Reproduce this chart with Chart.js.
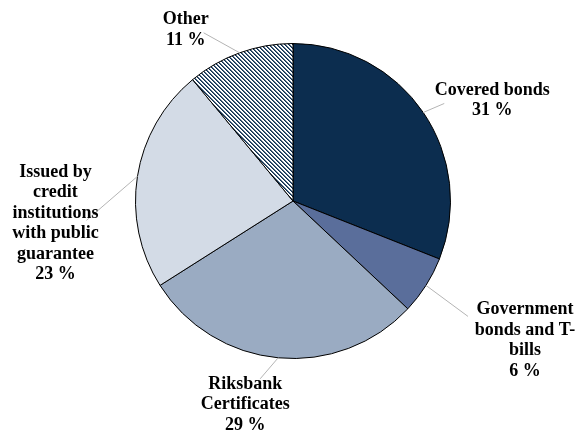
<!DOCTYPE html>
<html>
<head>
<meta charset="utf-8">
<script src="https://cdn.jsdelivr.net/npm/chart.js@4/dist/chart.umd.min.js"></script>
<style>
  body { margin: 0; background: #fff; }
  #wrap { width: 580px; height: 431px; position: relative; }
</style>
</head>
<body>
<div id="wrap"><canvas id="chart"></canvas></div>
<script>
const categories = [
  "Covered bonds",
  "Government bonds and T-bills",
  "Riksbank Certificates",
  "Issued by credit institutions with public guarantee",
  "Other",
];
const shares = [31, 6, 29, 23, 11];
// label text as wrapped in the original
const labelLines = [
  ["Covered bonds"],
  ["Government", "bonds and T-", "bills"],
  ["Riksbank", "Certificates"],
  ["Issued by", "credit", "institutions", "with public", "guarantee"],
  ["Other"],
];

const navy = "#0c2d4f";

function dottedPattern() {
  const c = document.createElement("canvas");
  c.width = 4;
  c.height = 4;
  const g = c.getContext("2d");
  g.fillStyle = "#fff";
  g.fillRect(0, 0, 4, 4);
  for (let y = 0; y < 4; y++) {
    g.fillStyle = navy;
    g.fillRect(y, y, 1, 1);
    g.globalAlpha = 0.7;
    g.fillRect((y + 1) % 4, y, 1, 1);
    g.globalAlpha = 1;
  }
  return g.createPattern(c, "repeat");
}

// offsets from the slice's outer edge at its mid angle: [leader end], [label centre]
const leaderOffsets = [[21, -9], [42, 31], [-18, 21], [-51, 44], [-36, -20]];
const labelOffsets = [[69, -12], [99, 55], [-33, 47], [-82, 47], [-54, -23]];

const pieLabels = {
  id: "pieLabels",
  afterDatasetsDraw(chart) {
    const ctx = chart.ctx;
    const arcs = chart.getDatasetMeta(0).data;
    ctx.save();
    arcs.forEach((arc, i) => {
      const p = arc.getProps(["x", "y", "startAngle", "endAngle", "outerRadius"], true);
      const mid = (p.startAngle + p.endAngle) / 2;
      const ex = p.x + Math.cos(mid) * p.outerRadius;
      const ey = p.y + Math.sin(mid) * p.outerRadius;

      ctx.strokeStyle = "#b4b4b4";
      ctx.lineWidth = 1;
      ctx.beginPath();
      ctx.moveTo(ex, ey);
      ctx.lineTo(ex + leaderOffsets[i][0], ey + leaderOffsets[i][1]);
      ctx.stroke();

      const lines = labelLines[i].concat([shares[i] + " %"]);
      const lh = 20.5;
      const cx = ex + labelOffsets[i][0];
      const cy = ey + labelOffsets[i][1];
      ctx.fillStyle = "#000";
      ctx.font = "bold 18px 'Liberation Serif', 'Times New Roman', serif";
      ctx.textAlign = "center";
      ctx.textBaseline = "middle";
      lines.forEach((t, k) => {
        ctx.fillText(t, cx, cy + (k - (lines.length - 1) / 2) * lh);
      });
    });
    ctx.restore();
  },
};

new Chart(document.getElementById("chart"), {
  type: "pie",
  data: {
    labels: categories,
    datasets: [
      {
        data: shares,
        backgroundColor: [navy, "#5a6e9b", "#9aabc2", "#d3dbe6", dottedPattern()],
        borderColor: "#000",
        borderWidth: 1,
      },
    ],
  },
  options: {
    responsive: true,
    maintainAspectRatio: false,
    animation: false,
    layout: { padding: { left: 135, right: 129, top: 43, bottom: 72 } },
    plugins: {
      legend: { display: false },
      tooltip: { enabled: false },
    },
  },
  plugins: [pieLabels],
});
</script>
</body>
</html>
